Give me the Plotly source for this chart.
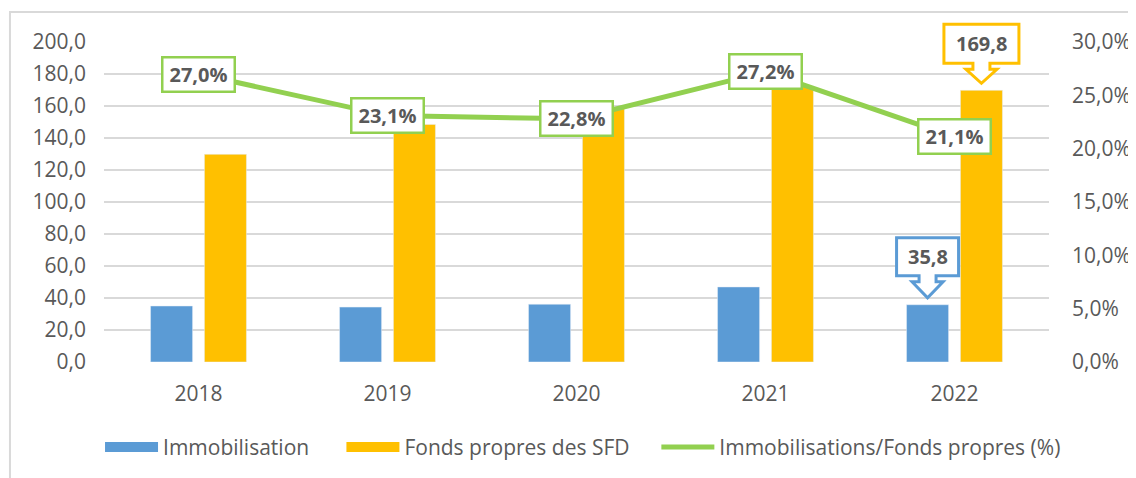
import plotly.graph_objects as go

years = ["2018", "2019", "2020", "2021", "2022"]
immobilisation = [35.0, 34.3, 36.1, 46.9, 35.8]
fonds_propres = [129.8, 148.5, 158.3, 172.4, 169.8]
ratio = [0.270, 0.231, 0.228, 0.272, 0.211]

BLUE = "#5B9BD5"
ORANGE = "#FFC000"
GREEN = "#92D050"
GRAY = "#595959"
GRID = "#D9D9D9"
FONT = "Open Sans"
BARGAP = 0.43
Y_MAX = 200
Y2_MAX = 0.30

x = list(range(len(years)))
XMIN, XMAX = -0.5, len(years) - 0.5

fig = go.Figure()
fig.add_trace(go.Bar(x=x, y=immobilisation, marker_color=BLUE, name="Immobilisation",
                     showlegend=False, hoverinfo="skip"))
fig.add_trace(go.Bar(x=x, y=fonds_propres, marker_color=ORANGE, name="Fonds propres des SFD",
                     showlegend=False, hoverinfo="skip"))
fig.add_trace(go.Scatter(x=x, y=ratio, yaxis="y2", mode="lines",
                         line=dict(color=GREEN, width=5), showlegend=False, hoverinfo="skip"))

# legend proxies
fig.add_trace(go.Scatter(x=[None], y=[None], mode="lines", line=dict(color=BLUE, width=14),
                         name="Immobilisation" + "&nbsp;" * 5))
fig.add_trace(go.Scatter(x=[None], y=[None], mode="lines", line=dict(color=ORANGE, width=14),
                         name="Fonds propres des SFD" + "&nbsp;" * 4))
fig.add_trace(go.Scatter(x=[None], y=[None], mode="lines", line=dict(color=GREEN, width=5),
                         name="Immobilisations/Fonds propres (%)"))

def fmt(v, pct=False):
    s = f"{v*100:.1f}" if pct else f"{v:.1f}"
    s = s.replace(".", ",")
    return s + ("%" if pct else "")

annotations = []
for i, r in enumerate(ratio):
    annotations.append(dict(
        x=i, y=r, xref="x", yref="y2", text=f"<b>{fmt(r, True)}</b>", showarrow=False,
        font=dict(family=FONT, size=20, color=GRAY), bgcolor="white",
        bordercolor=GREEN, borderwidth=2.5, borderpad=2, width=66, height=28))

shapes = []

def callout(xc, yv, color, hw, bottom, top, label):
    stem, head, hb, tip = 8.5, 15.5, bottom - 6, 7
    path = (f"M{-hw},{bottom} L{-stem},{bottom} L{-stem},{hb} L{-head},{hb} L0,{tip} "
            f"L{head},{hb} L{stem},{hb} L{stem},{bottom} L{hw},{bottom} L{hw},{top} L{-hw},{top} Z")
    shapes.append(dict(type="path", xref="paper", yref="paper", xsizemode="pixel", ysizemode="pixel",
                       xanchor=(xc - XMIN) / (XMAX - XMIN), yanchor=yv / Y_MAX, path=path,
                       fillcolor="white", line=dict(color=color, width=3)))
    annotations.append(dict(x=xc, y=yv, xref="x", yref="y", text=f"<b>{label}</b>",
                            showarrow=False, yshift=(bottom + top) / 2,
                            font=dict(family=FONT, size=20, color=GRAY)))

off = (1 - BARGAP) / 4
last = len(years) - 1
callout(last - off, immobilisation[last], BLUE, 31, 29, 67, fmt(immobilisation[last]))
callout(last + off, fonds_propres[last], ORANGE, 37.5, 27, 66, fmt(fonds_propres[last]))

# outer chart border (left/top visible)
shapes.append(dict(type="rect", xref="paper", yref="paper", x0=-0.0995, x1=1.3, y0=-0.6, y1=1.0936,
                   line=dict(color=GRID, width=2), fillcolor="rgba(0,0,0,0)", layer="below"))

tickfont = dict(family=FONT, size=21, color=GRAY)
fig.update_layout(
    width=1128, height=470,
    margin=dict(l=96, r=87, t=34, b=115.5, autoexpand=False),
    paper_bgcolor="white", plot_bgcolor="white",
    separators=", ",
    barmode="group", bargap=BARGAP, bargroupgap=0.22,
    font=dict(family=FONT, size=21, color=GRAY),
    xaxis=dict(tickvals=x, ticktext=years, range=[XMIN, XMAX], showgrid=False, automargin=False,
               zeroline=False, showline=False, ticks="", ticklabelstandoff=17, tickfont=tickfont),
    yaxis=dict(range=[0, Y_MAX], dtick=20, tickformat=".1f", showgrid=True, gridcolor=GRID,
               gridwidth=1.5, zeroline=False, showline=False, ticks="", ticklabelstandoff=17,
               tickfont=tickfont, automargin=False),
    yaxis2=dict(range=[0, Y2_MAX], dtick=0.05, tickformat=".1%", overlaying="y", side="right",
                showgrid=False, zeroline=False, showline=False, ticks="", ticklabelstandoff=22,
                tickfont=tickfont, automargin=False),
    legend=dict(orientation="h", x=-0.0042, xanchor="left", y=-0.267, yanchor="middle",
                font=dict(family=FONT, size=21, color=GRAY), itemwidth=53,
                bgcolor="rgba(0,0,0,0)"),
    annotations=annotations, shapes=shapes,
)

fig.write_html("out.html")
